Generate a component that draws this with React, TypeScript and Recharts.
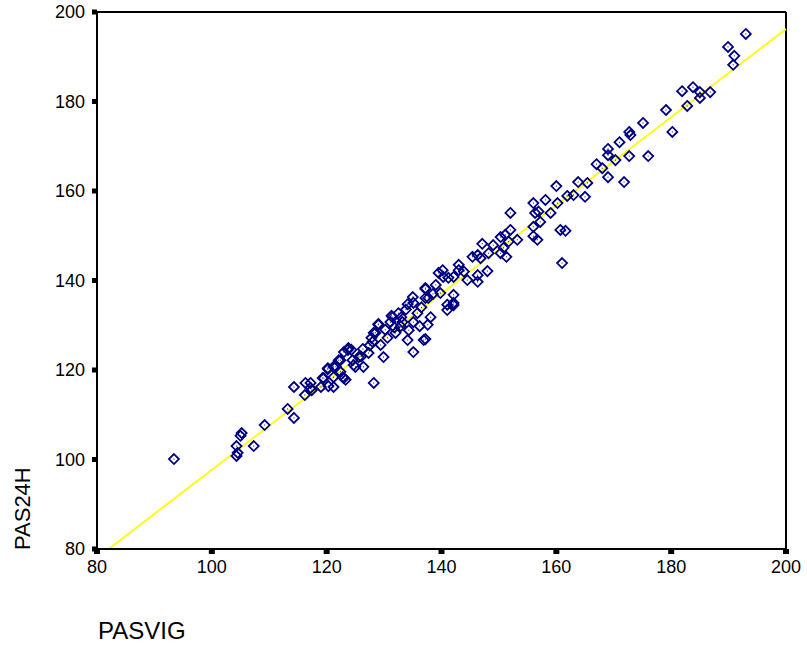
import { ReferenceLine, Scatter, ScatterChart, XAxis, YAxis } from 'recharts'

// PASVIG (x) and PAS24H (y)
const pasvig = [
  93.4, 104.3, 104.5, 104.3, 105.2, 105.0, 107.3, 109.2, 113.2, 114.3, 114.3, 116.3, 116.2, 117.4, 117.2,
  119.3, 120.2, 120.3, 121.2, 121.2, 122.1, 122.8, 123.3, 123.0, 123.8, 124.5, 125.0, 126.3, 126.4, 127.3,
  128.2, 128.0, 128.5, 129.0, 129.9, 129.4, 130.6, 131.5, 132.0, 132.5, 133.2, 134.1, 135.1, 134.1, 134.3,
  135.1, 135.8, 136.9, 137.6, 138.1, 141.0, 142.1, 135.1, 135.0, 137.2, 137.2, 136.2, 139.0, 139.5, 133.0,
  131.3, 131.1, 129.0, 132.9, 128.2, 137.2, 124.3, 123.7, 125.6, 124.7, 122.4, 121.6, 120.2, 122.4, 121.2,
  119.5, 123.0, 119.0, 127.8, 117.2, 127.5, 126.0, 131.8, 133.8, 136.5, 138.5, 130.2,
  160.0, 161.9, 158.1, 156.0, 160.2, 159.0, 156.3, 152.0, 157.2, 156.0, 156.0, 156.7, 160.7, 161.6, 161.0,
  152.0, 151.1, 150.3, 153.2, 150.8, 151.3, 150.3, 149.0, 147.1, 148.2, 146.3, 145.4, 148.0, 146.3, 146.3,
  144.5, 143.0, 143.0, 140.2, 140.3, 141.2, 142.1, 137.2, 139.8, 142.1, 142.1, 137.7, 143.9, 146.8, 151.7,
  156.9, 141.0,
  193.0, 189.9, 191.0, 190.8, 183.8, 181.9, 185.0, 186.8, 185.0, 182.8, 179.1, 180.2, 175.1, 172.7, 172.9,
  171.0, 169.0, 169.0, 170.3, 172.7, 176.0, 167.0, 168.0, 169.0, 171.8, 163.8, 165.4, 163.0, 165.0,
]
const pas24h = [
  100.1, 103.0, 101.5, 100.8, 105.9, 105.3, 103.0, 107.7, 111.3, 109.3, 116.2, 117.1, 114.4, 115.5, 117.1,
  118.2, 120.2, 116.4, 116.2, 120.7, 122.2, 118.4, 117.8, 124.0, 124.9, 122.2, 120.7, 124.7, 120.7, 123.8,
  117.1, 126.3, 128.3, 130.1, 122.9, 125.6, 127.2, 131.8, 128.3, 132.7, 130.7, 134.7, 124.0, 126.7, 128.9,
  130.7, 132.7, 126.7, 130.1, 131.8, 133.4, 134.5, 135.0, 136.3, 138.1, 136.1, 129.8, 139.0, 141.7, 131.8,
  132.1, 130.7, 130.3, 129.8, 128.3, 126.9, 124.5, 124.5, 122.9, 121.1, 122.2, 120.7, 120.4, 119.6, 118.4,
  118.2, 118.2, 116.2, 127.2, 116.0, 125.5, 123.0, 129.5, 133.5, 134.0, 137.0, 129.0,
  161.1, 158.9, 158.0, 157.3, 157.3, 155.1, 155.1, 155.1, 153.1, 152.0, 149.9, 149.1, 151.3, 151.1, 143.9,
  151.3, 150.2, 149.7, 149.1, 147.3, 145.3, 146.1, 147.9, 148.2, 146.1, 145.7, 145.3, 142.1, 141.2, 139.7,
  140.1, 143.5, 142.3, 142.3, 140.8, 140.6, 140.8, 138.3, 137.2, 136.8, 135.0, 136.1, 142.0, 145.0, 148.7,
  155.4, 134.6,
  195.1, 192.2, 190.2, 188.2, 183.2, 182.3, 182.1, 182.1, 180.8, 179.0, 178.1, 173.2, 175.2, 173.2, 172.5,
  170.9, 169.4, 168.0, 166.9, 167.8, 167.8, 166.0, 165.1, 163.1, 162.0, 162.0, 161.8, 159.1, 158.7,
]
const ticks = [80, 100, 120, 140, 160, 180, 200]

// fitted line as drawn (PAS24H = a + b * PASVIG)
const FIT_B = 0.985
const FIT_A = -0.8

const points = pasvig.map((x, i) => ({ x, y: pas24h[i] }))

const font = '"Liberation Sans", Arial, sans-serif'
const tickStyle = { fill: '#000', fontSize: 18, fontFamily: font }

function Diamond(props: any) {
  const { cx, cy } = props
  const r = 5
  return (
    <g>
      <path
        d={`M${cx},${cy - r}L${cx + r},${cy}L${cx},${cy + r}L${cx - r},${cy}Z`}
        fill="none"
        stroke="#000080"
        strokeWidth={1.8}
      />
      <rect x={cx - 0.5} y={cy - 0.5} width={1} height={1} fill="#000080" />
    </g>
  )
}

export default function App() {
  const x0 = (80 - FIT_A) / FIT_B
  return (
    <div style={{ position: 'absolute', left: 0, top: 0, background: '#fff' }}>
      <ScatterChart width={807} height={646} margin={{ top: 12, right: 21, bottom: 0, left: 0 }}>
        <XAxis
          dataKey="x"
          type="number"
          domain={[80, 200]}
          ticks={ticks}
          interval={0}
          allowDataOverflow
          height={97}
          axisLine={{ stroke: '#000', strokeWidth: 2 }}
          tickLine={{ stroke: '#000', strokeWidth: 6 }}
          tickSize={5}
          tickMargin={6}
          tick={tickStyle}
        />
        <YAxis
          dataKey="y"
          type="number"
          domain={[80, 200]}
          ticks={ticks}
          interval={0}
          allowDataOverflow
          width={97}
          axisLine={{ stroke: '#000', strokeWidth: 2 }}
          tickLine={{ stroke: '#000', strokeWidth: 5 }}
          tickSize={5}
          tickMargin={7}
          tick={tickStyle}
        />
        <ReferenceLine x={200} stroke="#000" strokeWidth={2} />
        <ReferenceLine y={200} stroke="#000" strokeWidth={2} />
        <ReferenceLine
          segment={[
            { x: x0, y: 80 },
            { x: 200, y: FIT_A + FIT_B * 200 },
          ]}
          stroke="#ffff00"
          strokeWidth={1.8}
        />
        <Scatter data={points} shape={Diamond} isAnimationActive={false} />
        <text x={98} y={639} fontSize={24} fontFamily={font} fill="#000">
          PASVIG
        </text>
        <text
          x={30}
          y={550}
          fontSize={22}
          fontFamily={font}
          fill="#000"
          transform="rotate(-90 30 550)"
        >
          PAS24H
        </text>
      </ScatterChart>
    </div>
  )
}
